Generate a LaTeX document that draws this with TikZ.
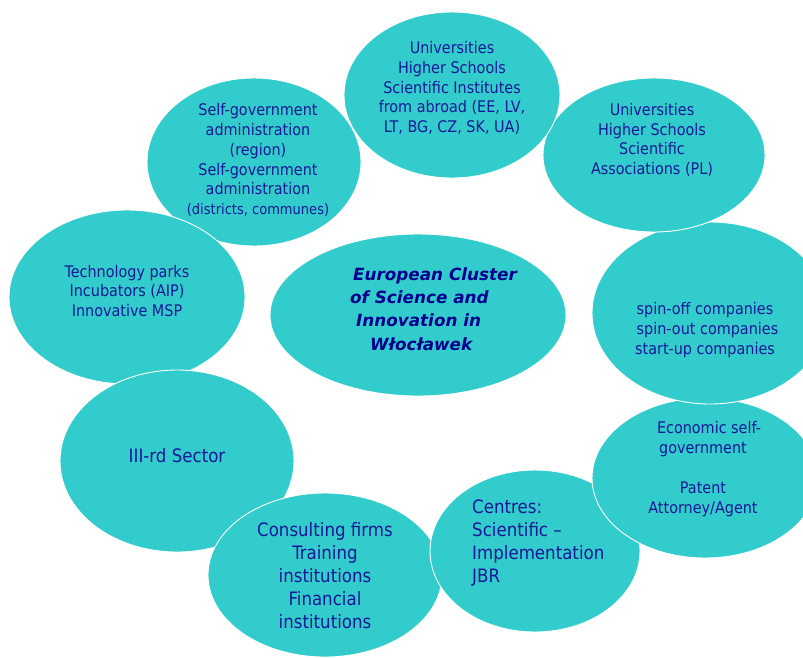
\documentclass[tikz,border=0pt]{standalone}
\usepackage{fontspec}
\setmainfont{DejaVu Sans Condensed}
\newfontfamily\hubfont{DejaVu Sans}
\begin{document}
\begin{tikzpicture}[x=1pt,y=-1pt,
  blob/.style={fill=tealfill,draw=white,line width=0.9pt},
  lbl/.style={text=navytext,align=center,inner sep=0pt,font=\fontsize{16}{19.8}\selectfont},
  biglbl/.style={lbl,font=\fontsize{18.5}{23}\selectfont},
  hub/.style={text=hubtext,align=left,inner sep=0pt,font=\hubfont\fontsize{16.8}{23.3}\selectfont\bfseries\itshape}]
\definecolor{tealfill}{RGB}{51,204,204}
\definecolor{navytext}{RGB}{24,24,150}
\definecolor{hubtext}{RGB}{0,0,140}
\useasboundingbox (0,0) rectangle (803,657);
\clip (0,0) rectangle (803,657);
% surrounding partner groups, stacked anticlockwise from the upper left
\path[blob] (254,162) ellipse [x radius=107pt, y radius=84pt];
\path[blob] (127,297) ellipse [x radius=118pt, y radius=87pt];
\path[blob] (177,461) ellipse [x radius=117pt, y radius=91pt];
\path[blob] (325,575) ellipse [x radius=117pt, y radius=82pt];
\path[blob] (535,551) ellipse [x radius=105pt, y radius=81pt];
\path[blob] (705,478) ellipse [x radius=113pt, y radius=80pt];
\path[blob] (710,313) ellipse [x radius=118pt, y radius=91pt];
\path[blob] (654,155) ellipse [x radius=111pt, y radius=77pt];
\path[blob] (452,95) ellipse [x radius=108pt, y radius=83pt];
% the cluster itself
\path[blob] (418,315) ellipse [x radius=148pt, y radius=81pt];

\node[hub,anchor=west] (hubtxt) at (350,309) {\hspace{3pt}European Cluster\\of Science and\\\hspace{6pt}Innovation in\\\hspace{20pt}Włocławek};

\node[lbl] (abroad) at (452,88) {Universities\\Higher Schools\\Scientific Institutes\\from abroad (EE, LV,\\LT, BG, CZ, SK, UA)};
\node[lbl] (pl) at (652,140) {Universities\\Higher Schools\\Scientific\\Associations (PL)};
\node[lbl] (selfgov) at (258,160) {Self-government\\administration\\(region)\\Self-government\\administration\\{\fontsize{14.5}{17}\selectfont(districts, communes)}};
\node[lbl] (tech) at (127,291) {Technology parks\\Incubators (AIP)\\Innovative MSP};
\node[lbl] (spin) at (705,330) {spin-off companies\\\hspace{5pt}spin-out companies\\start-up companies};
\node[lbl] (econ) at (703,469) {\hspace{12pt}Economic self-\\government\hspace{4pt}\\[19.8pt]Patent\\Attorney/Agent};
\node[biglbl] (third) at (177,456) {III-rd Sector};
\node[biglbl] (consult) at (325,576) {Consulting firms\\Training\\institutions\\Financial\\institutions};
\node[biglbl,align=left,anchor=west] (centres) at (472,543) {Centres:\\Scientific --\\Implementation\\JBR};
\end{tikzpicture}
\end{document}
